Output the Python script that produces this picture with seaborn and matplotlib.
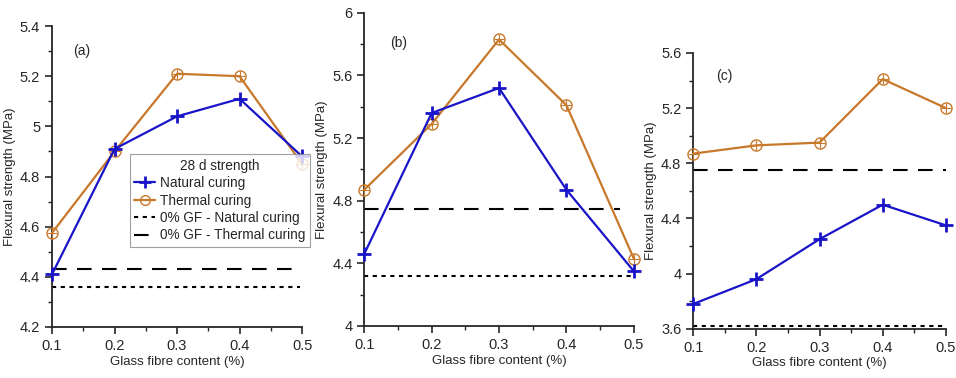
import matplotlib
matplotlib.use("Agg")
import matplotlib.pyplot as plt
import numpy as np
import pandas as pd
import seaborn as sns
from matplotlib.lines import Line2D
from matplotlib.ticker import MultipleLocator

# data
gf = [0.1, 0.2, 0.3, 0.4, 0.5]

natural_a = [4.41, 4.91, 5.04, 5.11, 4.88]
thermal_a = [4.575, 4.90, 5.21, 5.20, 4.85]
base_nat_a, base_th_a = 4.36, 4.43

natural_b = [4.46, 5.36, 5.52, 4.87, 4.35]
thermal_b = [4.87, 5.29, 5.83, 5.41, 4.43]
base_nat_b, base_th_b = 4.32, 4.75

natural_c = [3.78, 3.96, 4.25, 4.50, 4.35]
thermal_c = [4.87, 4.93, 4.95, 5.41, 5.20]
base_nat_c, base_th_c = 3.62, 4.75

BLUE = "#1a14c8"
ORANGE = "#c8782a"

sns.set_style("ticks")
plt.rcParams["font.family"] = ["Liberation Sans", "DejaVu Sans"]

fig = plt.figure(figsize=(9.56, 3.78), dpi=100)

panels = [
    # axes rect, data, baselines, ylim, ymajor, label, label pos, baseline x-extent
    ([0.0544, 0.135, 0.2616, 0.796], natural_a, thermal_a, base_nat_a, base_th_a,
     (4.2, 5.4), 0.2, "(a)", (0.134, 5.30), (0.1, 0.497), (0.1, 0.5)),
    ([0.381, 0.1376, 0.282, 0.8284], natural_b, thermal_b, base_nat_b, base_th_b,
     (4.0, 6.0), 0.4, "(b)", (0.138, 5.81), (0.1, 0.5), (0.1, 0.479)),
    ([0.725, 0.130, 0.2645, 0.730], natural_c, thermal_c, base_nat_c, base_th_c,
     (3.6, 5.6), 0.4, "(c)", (0.136, 5.43), (0.1, 0.5), (0.1, 0.5)),
]

for (rect, nat, th, bn, bt, ylim, ymaj, lab, labpos, xn, xt) in panels:
    ax = fig.add_axes(rect)
    df = pd.DataFrame({"gf": gf * 2,
                       "fs": nat + th,
                       "curing": ["Natural curing"] * 5 + ["Thermal curing"] * 5})
    ax.plot(xn, [bn, bn], color="black", lw=1.5, ls=(0, (2, 2.2)))
    ax.plot(xt, [bt, bt], color="black", lw=1.5, ls=(0, (7, 5)))
    sns.lineplot(data=df[df.curing == "Thermal curing"], x="gf", y="fs", ax=ax,
                 color=ORANGE, lw=1.6, marker="o", markersize=8,
                 markerfacecolor="none", markeredgecolor=ORANGE, markeredgewidth=1.0,
                 clip_on=False, zorder=3)
    sns.scatterplot(x=gf, y=th, ax=ax, marker="+", s=45, color=ORANGE, linewidth=0.8,
                    clip_on=False, zorder=3)
    sns.lineplot(data=df[df.curing == "Natural curing"], x="gf", y="fs", ax=ax,
                 color=BLUE, lw=1.6, marker="+", markersize=10,
                 markeredgecolor=BLUE, markeredgewidth=2.0, clip_on=False, zorder=4)
    ax.set_xlim(0.1, 0.5)
    ax.set_ylim(*ylim)
    ax.set_xticks(gf)
    ax.set_xticklabels(["0.1", "0.2", "0.3", "0.4", "0.5"])
    ax.xaxis.set_minor_locator(MultipleLocator(0.05))
    ax.yaxis.set_major_locator(MultipleLocator(ymaj))
    ax.yaxis.set_minor_locator(MultipleLocator(ymaj / 2))
    ax.yaxis.set_major_formatter(plt.FuncFormatter(lambda v, p: f"{v:g}"))
    ax.tick_params(which="major", direction="out", length=5, width=1.2, labelsize=10.5)
    ax.tick_params(which="minor", direction="out", length=3, width=1.0)
    for s in ("top", "right"):
        ax.spines[s].set_visible(False)
    for s in ("left", "bottom"):
        ax.spines[s].set_linewidth(1.3)
    ax.set_xlabel("Glass fibre content (%)", fontsize=9.5, labelpad=2)
    ax.set_ylabel("Flexural strength (MPa)", fontsize=9.5, labelpad=3)
    ax.text(labpos[0], labpos[1], lab, fontsize=10, va="center")
    if lab == "(a)":
        handles = [
            Line2D([], [], color=BLUE, lw=1.6, marker="+", markersize=9, markeredgewidth=2),
            Line2D([], [], color=ORANGE, lw=1.6, marker="o", markersize=7,
                   markerfacecolor="none"),
            Line2D([], [], color="black", lw=1.5, ls=(0, (2, 2.2))),
            Line2D([], [], color="black", lw=1.5, ls=(0, (7, 5))),
        ]
        leg = ax.legend(handles, ["Natural curing", "Thermal curing",
                                  "0% GF - Natural curing", "0% GF - Thermal curing"],
                        title="28 d strength", fontsize=9.8, title_fontsize=9.8,
                        loc="upper left", bbox_to_anchor=(0.31, 0.575),
                        frameon=True, fancybox=False, edgecolor="#888888",
                        handlelength=1.5, handletextpad=0.4, borderpad=0.35,
                        labelspacing=0.25, borderaxespad=0)
        leg.get_frame().set_linewidth(0.8)

fig.savefig("out.png", dpi=100)
